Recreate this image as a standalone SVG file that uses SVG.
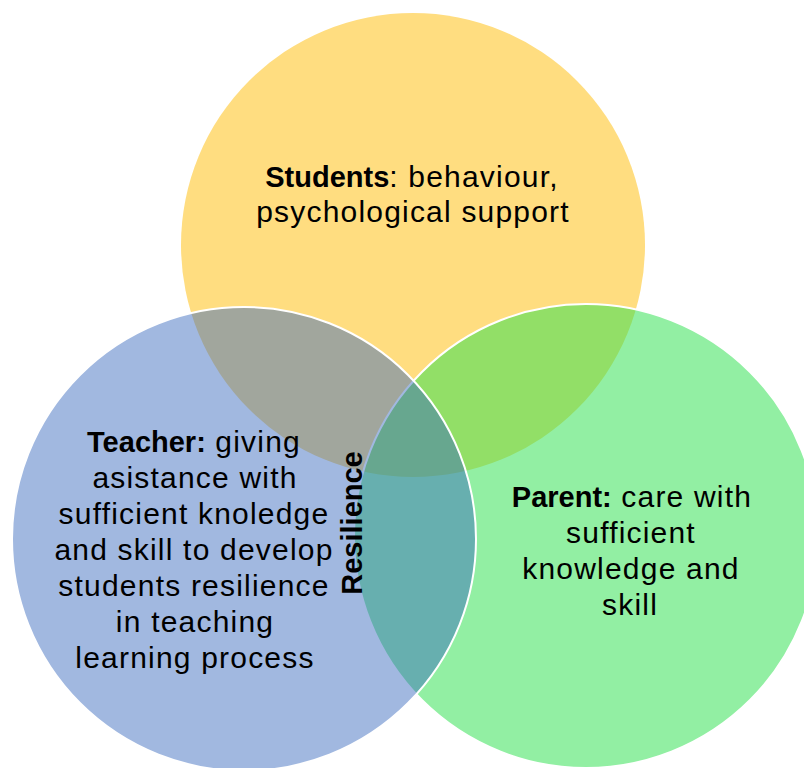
<svg xmlns="http://www.w3.org/2000/svg" width="804" height="768" viewBox="0 0 804 768">
<style>
.t{font-family:"Liberation Sans",Arial,sans-serif;font-size:30px;letter-spacing:1.2px;fill:#000;text-anchor:middle}
.b{font-weight:bold;letter-spacing:0px;font-size:29px}
.c{stroke:#fff;stroke-width:2}
</style>
<rect width="804" height="768" fill="#fff"/>
<g id="students">
<circle cx="413" cy="245" r="232" fill="#FFDD80"/>
</g>
<g id="parent">
<circle class="c" cx="586" cy="536" r="232" fill="rgb(49,225,81)" fill-opacity="0.53"/>
</g>
<g id="teacher">
<circle class="c" cx="244" cy="539" r="232" fill="rgb(55,104,189)" fill-opacity="0.47"/>
</g>
<g id="connectors"></g>
<g id="students-label">
<text class="t" x="412" y="187"><tspan class="b">Students</tspan>: behaviour,</text>
<text class="t" x="413" y="222">psychological support</text>
</g>
<g id="teacher-label">
<text class="t" x="194" y="452"><tspan class="b">Teacher:</tspan> giving</text>
<text class="t" x="195" y="488">asistance with</text>
<text class="t" x="194" y="524">sufficient knoledge</text>
<text class="t" x="194" y="560">and skill to develop</text>
<text class="t" x="194" y="596">students resilience</text>
<text class="t" x="195" y="632">in teaching</text>
<text class="t" x="195" y="668">learning process</text>
</g>
<g id="parent-label">
<text class="t" x="632" y="507"><tspan class="b">Parent:</tspan> care with</text>
<text class="t" x="631" y="543">sufficient</text>
<text class="t" x="631" y="579">knowledge and</text>
<text class="t" x="630" y="615">skill</text>
</g>
<g id="resilience">
<text class="t b" transform="translate(362,523) rotate(-90)">Resilience</text>
</g>
</svg>
